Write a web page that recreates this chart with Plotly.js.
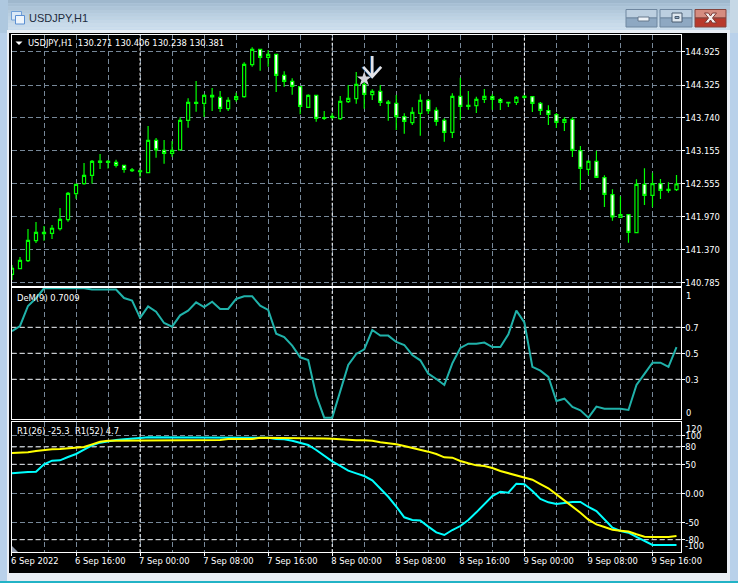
<!DOCTYPE html>
<html><head><meta charset="utf-8">
<script src="https://cdn.plot.ly/plotly-3.0.1.min.js"></script>
<style>html,body{margin:0;padding:0;background:#b9d1ea;overflow:hidden}#chart{width:738px;height:583px}</style>
</head><body><div id="chart"></div>
<script>
const barLabels = ["6 Sep 2022","6 Sep 16:00","7 Sep 00:00","7 Sep 08:00","7 Sep 16:00","8 Sep 00:00","8 Sep 08:00","8 Sep 16:00","9 Sep 00:00","9 Sep 08:00","9 Sep 16:00"];
const labelBars = [0,8,16,24,32,40,48,56,64,72,80];
const gridBars = [0,4,8,12,16,20,24,28,32,36,40,44,48,52,56,60,64,68,72,76,80];
const midnightBars = [16,40,64];

const priceOpen = [140.929,141.031,141.174,141.533,141.659,141.665,141.749,141.910,142.377,142.556,142.706,142.939,142.939,142.939,142.885,142.802,142.784,142.754,143.334,143.155,143.101,143.161,143.693,143.998,143.998,144.142,144.106,143.903,144.070,144.118,144.692,144.968,144.824,144.878,144.501,144.393,144.297,143.926,144.142,143.741,143.765,143.723,144.028,144.082,144.339,144.154,144.214,144.022,143.998,143.759,143.651,143.819,144.052,143.873,143.693,143.478,144.124,143.962,143.956,144.070,144.118,144.064,144.016,144.016,144.106,144.118,143.998,143.867,143.795,143.657,143.711,143.149,142.814,142.957,142.664,142.359,141.952,142.000,141.677,142.544,142.347,142.556,142.455,142.449];
const priceClose = [141.037,141.180,141.539,141.683,141.683,141.755,141.916,142.383,142.544,142.706,142.957,142.963,142.957,142.885,142.814,142.790,142.772,143.334,143.161,143.101,143.155,143.693,144.016,144.016,144.142,144.112,143.909,144.052,144.118,144.698,144.968,144.824,144.878,144.501,144.393,144.303,143.944,144.142,143.729,143.729,143.747,144.034,144.088,144.339,144.160,144.214,144.016,143.998,143.759,143.675,143.837,144.052,143.867,143.675,143.478,144.124,143.944,143.944,144.070,144.124,144.070,144.016,144.004,144.106,144.124,143.998,143.873,143.801,143.657,143.705,143.155,142.832,142.957,142.670,142.365,141.958,142.000,141.683,142.544,142.347,142.556,142.437,142.437,142.550];
const priceHigh = [141.097,141.240,141.743,141.868,141.797,141.814,142.120,142.407,142.550,142.927,142.981,143.089,142.981,142.987,142.897,142.838,142.808,143.591,143.376,143.340,143.322,143.747,144.088,144.399,144.160,144.273,144.220,144.106,144.190,144.734,145.003,144.968,144.956,144.884,144.573,144.447,144.309,144.160,144.142,143.861,143.819,144.130,144.327,144.561,144.507,144.250,144.327,144.058,144.148,143.819,143.926,144.160,144.076,143.926,143.729,144.178,144.459,144.220,144.118,144.256,144.160,144.094,144.022,144.130,144.148,144.130,144.022,143.962,143.825,143.747,143.747,143.232,142.981,143.149,142.706,142.455,142.329,142.000,142.634,142.832,142.754,142.640,142.580,142.712];
const priceLow = [140.827,141.019,141.150,141.491,141.533,141.563,141.713,141.874,142.287,142.538,142.556,142.820,142.826,142.844,142.754,142.766,142.682,142.754,143.023,142.915,143.041,143.155,143.562,143.849,143.753,143.861,143.843,143.861,144.028,144.100,144.656,144.585,144.656,144.202,144.297,144.154,143.801,143.920,143.669,143.699,143.711,143.699,144.004,143.992,143.903,144.058,143.950,143.687,143.520,143.454,143.609,143.418,143.807,143.597,143.310,143.376,143.699,143.885,143.825,144.004,143.885,143.879,143.932,143.968,144.082,143.843,143.789,143.609,143.556,143.502,143.035,142.443,142.712,142.664,142.138,141.892,141.952,141.497,141.665,142.173,142.132,142.281,142.395,142.425];

const demValues = [0.671,0.710,0.864,0.923,1,1,1,1,1,1,0.99,0.99,0.99,0.99,0.925,0.905,0.772,0.861,0.820,0.733,0.705,0.792,0.828,0.892,0.856,0.897,0.841,0.841,0.918,0.938,0.938,0.866,0.833,0.651,0.625,0.559,0.469,0.448,0.174,0.005,0.005,0.205,0.410,0.495,0.530,0.679,0.636,0.636,0.587,0.564,0.487,0.446,0.343,0.302,0.256,0.423,0.541,0.574,0.574,0.582,0.548,0.548,0.646,0.828,0.738,0.395,0.366,0.318,0.133,0.151,0.087,0.061,0.005,0.090,0.074,0.074,0.074,0.064,0.256,0.341,0.428,0.428,0.395,0.548];
const r26Values = [34.4,36.1,36.7,37.3,49.9,56.3,56.8,62.6,67.8,75.2,82.7,87.3,90.2,91.9,93,94.8,95.4,96.5,96.5,96.5,96.5,96.5,96.5,96.5,96.5,96.5,96.5,96.5,95.9,95.9,95.9,95.9,95.9,93.6,93,90.7,87.3,83.3,74.7,64.9,55.1,47.1,39,34.4,29.8,22.4,8.6,-6,-23,-41.4,-46,-47,-57.5,-67.3,-71.9,-63.3,-56.4,-46,-32.8,-19,-4.7,2.8,1.1,16.6,15.5,4,-9.8,-15.6,-18.4,-16.7,-15,-15,-23.6,-30.5,-44.9,-59.3,-65,-67.9,-75.3,-82.2,-89,-89,-89,-89];
const r52Values = [69.5,69.5,70.6,72.9,74.7,75.8,76.4,77.5,79.3,79.8,84.4,89,90.7,90.7,90.7,90.7,90.7,90.7,90.7,90.7,90.7,90.7,90.7,91.9,91.9,91.9,91.9,93.6,93.6,93.6,93.6,95.6,95.6,95.6,95.6,95.6,95.6,95.6,95.3,94.5,94,93,92,91.5,91.5,90.7,87.9,86.7,84.4,81.5,78.7,74.7,71.8,67.7,62,61.4,55.7,51.7,48.2,47.1,43.6,38.4,35,31.6,28.1,23.5,16,8.6,-1.8,-12,-22,-33.4,-45.5,-53.5,-58,-62.7,-64.4,-66,-70.7,-74.8,-75.3,-75.3,-75.3,-73.6];

const priceTicks = [144.925,144.325,143.74,143.155,142.555,141.97,141.37,140.785];
const demTicks = [0.7,0.5,0.3];
const rangeTicks = [100,80,50,0,-50,-80];
const rangeTickText = ["100","80","50","0.00","-50","-80"];
const sellBar = 45, sellPrice = 144.67;
const starBar = 44, starPrice = 144.435;

const W=738,H=583;
const bars = priceOpen.map((_,i)=>i);
const px = v=>v/W, py = v=>1-v/H;
const FONT = '"DejaVu Sans Condensed", "DejaVu Sans", sans-serif';
const SIZE = 9.3;
const GRID = '#778899', DASH='5px,3px';
const priceRange=[140.724,145.234], demRange=[-0.0054,1.006], rangeRange=[-101.2,123.8];

const axisCommon = {showline:true,mirror:true,linecolor:'#fff',linewidth:1,zeroline:false,fixedrange:true};
const xDomain = [px(11.5),px(680.5)], xRange=[-0.06,83.5];
function xAxis(anchor,labels){
  return Object.assign({},axisCommon,{domain:xDomain,range:xRange,anchor,type:'linear',
    tickmode:'array',tickvals:labelBars,ticktext:labels?barLabels:labelBars.map(()=>''),
    ticks:labels?'outside':'',ticklen:3,tickcolor:'#fff',showticklabels:!!labels,
    ticklabelposition:'outside right',ticklabelshift:-2,tickfont:{family:FONT,size:SIZE,color:'#fff'},
    showgrid:true,gridcolor:GRID,griddash:DASH,gridwidth:1,
    minor:{tickmode:'array',tickvals:gridBars,showgrid:true,gridcolor:GRID,griddash:DASH,gridwidth:1,ticks:''},
    rangeslider:{visible:false}});
}
function yAxis(top,bottom,range,vals,text,anchor){
  return Object.assign({},axisCommon,{domain:[py(bottom),py(top)],range,anchor,side:'right',
    tickmode:'array',tickvals:vals,ticktext:text,ticks:'outside',ticklen:3,tickcolor:'#fff',
    ticklabelstandoff:-1,
    tickfont:{family:FONT,size:SIZE,color:'#fff'},showgrid:true,gridcolor:GRID,griddash:DASH,gridwidth:1});
}

const traces = [
 {type:'candlestick',x:bars,open:priceOpen,high:priceHigh,low:priceLow,close:priceClose,xaxis:'x',yaxis:'y',
  whiskerwidth:0,
  increasing:{line:{color:'#00ff00',width:1.2},fillcolor:'#000000'},
  decreasing:{line:{color:'#00ff00',width:1.2},fillcolor:'#ffffff'},hoverinfo:'skip',showlegend:false},
 {type:'scatter',mode:'markers',x:[starBar],y:[starPrice],xaxis:'x',yaxis:'y',
  marker:{symbol:'star',size:11,color:'#d4d4dc',line:{width:0}},hoverinfo:'skip',showlegend:false},
 {type:'scatter',mode:'lines',x:bars,y:demValues,xaxis:'x2',yaxis:'y2',line:{color:'#20b2aa',width:2},hoverinfo:'skip',showlegend:false},
 {type:'scatter',mode:'lines',x:bars,y:r26Values,xaxis:'x3',yaxis:'y3',line:{color:'#00ffff',width:2},hoverinfo:'skip',showlegend:false},
 {type:'scatter',mode:'lines',x:bars,y:r52Values,xaxis:'x3',yaxis:'y3',line:{color:'#ffff00',width:2},hoverinfo:'skip',showlegend:false}
];

function rect(x0,y0,x1,y1,fill,line){
  return {type:'rect',xref:'paper',yref:'paper',x0:px(x0),x1:px(x1),y0:py(y0),y1:py(y1),fillcolor:fill,
    line:line?{color:line,width:1}:{width:0},layer:'below'};
}
function chromePath(d,fill,line,layer){
  return {type:'path',xref:'paper',yref:'paper',path:d,fillcolor:fill,line:line?{color:line,width:1}:{width:0},layer:layer||'below'};
}
const shapes = [];
const bandColors=['#9fb8cd','#a7bfd3','#aec5d8','#b4cadc','#bacfe0','#bfd3e3','#c4d7e7','#c9dbea','#cddeec','#d0e0ee'];
bandColors.forEach((c,i)=>shapes.push(rect(0,i*3.3,W,(i+1)*3.3,c)));
shapes.push(rect(0,33,W,H,'#b9d1ea'));
shapes.push(rect(0,0,8,33,'#aec8df'));
shapes.push(rect(730,0,W,33,'#c6d8e6'));
shapes.push(rect(7,30,730,581,'#e9eef4'));
shapes.push(rect(9,33,727,573,'#000000'));
shapes.push(rect(0,581,W,583,'#22b3c6'));
shapes.push(rect(11.5,11.5,21.5,20,'#dbe9f7','#6f9fd8'));
shapes.push(rect(15.5,15.5,24.5,24,'#eef5fc','#5b8fd2'));
function btn(x0,x1,c1,c2,line){
  shapes.push(rect(x0,9.5,x1,18,c1,line));
  shapes.push(rect(x0,18,x1,27,c2,line));
}
btn(626,657,'#bccfe0','#8ea8c2','#6f87a0');
btn(660,692,'#bccfe0','#8ea8c2','#6f87a0');
btn(695,726,'#d58c80','#b8392c','#84443e');
shapes.push(rect(638,17,649,21,'#eef3f8','#66788c'));
shapes.push(rect(672,13,682,22,'#dfe8f0','#4b5d70'));
shapes.push(rect(675,16.5,679,18.5,'#8ea8c2','#4b5d70'));
const xm=710.5, ym=18;
shapes.push(chromePath(`M ${px(xm-6)} ${py(ym-5)} L ${px(xm-2)} ${py(ym-5)} L ${px(xm)} ${py(ym-2)} L ${px(xm+2)} ${py(ym-5)} L ${px(xm+6)} ${py(ym-5)} L ${px(xm+2)} ${py(ym)} L ${px(xm+6)} ${py(ym+5)} L ${px(xm+2)} ${py(ym+5)} L ${px(xm)} ${py(ym+2)} L ${px(xm-2)} ${py(ym+5)} L ${px(xm-6)} ${py(ym+5)} L ${px(xm-2)} ${py(ym)} Z`,'#f4eeee','#7b3b36'));
[['x','y',priceRange],['x2','y2',demRange],['x3','y3',rangeRange]].forEach(([xa,ya,r])=>{
  midnightBars.forEach(b=>shapes.push({type:'line',xref:xa,yref:ya,x0:b,x1:b,y0:r[0],y1:r[1],line:{color:'#ffffff',width:1,dash:'3px,2px'},layer:'between'}));
});
demTicks.forEach(v=>shapes.push({type:'line',xref:'x2',yref:'y2',x0:xRange[0],x1:xRange[1],y0:v,y1:v,line:{color:'#dddddd',width:1,dash:DASH},layer:'between'}));
[80,50,-80].forEach(v=>shapes.push({type:'line',xref:'x3',yref:'y3',x0:xRange[0],x1:xRange[1],y0:v,y1:v,line:{color:'#dddddd',width:1,dash:DASH},layer:'between'}));
const arrowCommon={type:'path',xref:'x',yref:'y',xsizemode:'pixel',ysizemode:'pixel',xanchor:sellBar,yanchor:sellPrice,layer:'above',fillcolor:'rgba(0,0,0,0)'};
shapes.push(Object.assign({},arrowCommon,{path:'M -1 10 L -1 -11 M -10 -1 L -1 -11 L 8 -1',line:{color:'#1b5a9a',width:2.2}}));
shapes.push(Object.assign({},arrowCommon,{path:'M 0 10 L 0 -11 M -9 -1 L 0 -11 L 9 -1',line:{color:'#e4e4e8',width:2.6}}));
shapes.push(chromePath(`M ${px(12)} ${py(546)} L ${px(18)} ${py(552)} L ${px(12)} ${py(552)} Z`,'#8d97a8',null,'above'));
shapes.push(chromePath(`M ${px(15.5)} ${py(41.5)} L ${px(22.5)} ${py(41.5)} L ${px(19)} ${py(45)} Z`,'#ffffff',null,'above'));

function note(text,x,y,opts){
  return Object.assign({text,xref:'paper',yref:'paper',x:px(x),y:py(y),xanchor:'left',yanchor:'middle',showarrow:false,
    font:{family:FONT,size:SIZE,color:'#fff'},borderpad:0},opts||{});
}
function edge(text,xa,ya,y,xshift,yshift){
  return {text,xref:xa+' domain',yref:ya,x:1,y,xshift,yshift,xanchor:'left',yanchor:'middle',showarrow:false,font:{family:FONT,size:SIZE,color:'#fff'}};
}
const annotations=[
 note('USDJPY,H1  130.271 130.406 130.238 130.381',27,42.5),
 note('DeM(9) 0.7009',16,297),
 note('R1(26) -25.3  R1(52) 4.7',16,430.5),
 edge('1','x2','y2',1,3,-7),
 edge('0','x2','y2',0,3,6),
 edge('120','x3','y3',120,3,-5),
 edge('-100','x3','y3',-100,2,6)
];

const layout={
 width:W,height:H,autosize:false,margin:{l:0,r:0,t:0,b:0,pad:0},
 paper_bgcolor:'#b9d1ea',plot_bgcolor:'#000000',showlegend:false,hovermode:false,boxgap:0.45,
 title:{text:'USDJPY,H1',x:px(29),xanchor:'left',xref:'paper',y:py(18),yanchor:'middle',font:{family:'"Liberation Sans", Arial, sans-serif',size:11,color:'#1d2b3c'}},
 xaxis:xAxis('y',false),
 xaxis2:Object.assign(xAxis('y2',false),{matches:'x'}),
 xaxis3:Object.assign(xAxis('y3',true),{matches:'x'}),
 yaxis:yAxis(34.5,285.7,priceRange,priceTicks,priceTicks.map(v=>v.toFixed(3)),'x'),
 yaxis2:yAxis(287.5,419,demRange,demTicks,demTicks.map(String),'x2'),
 yaxis3:yAxis(421.5,552,rangeRange,rangeTicks,rangeTickText,'x3'),
 shapes,annotations
};
Plotly.newPlot('chart',traces,layout,{staticPlot:true,displayModeBar:false});
</script></body></html>
